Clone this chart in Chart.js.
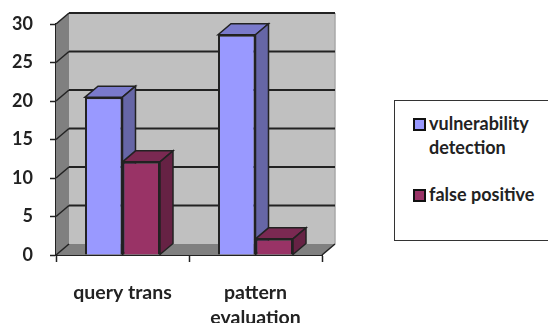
<!DOCTYPE html>
<html>
<head>
<meta charset="utf-8">
<title>query evaluation</title>
<script src="https://cdn.jsdelivr.net/npm/chart.js@4"></script>
<style>
  html, body { margin: 0; background: #fff; }
  #wrap { position: relative; width: 548px; height: 323px; overflow: hidden; font-family: Lato, sans-serif; font-weight: 700; color: #222; }
  #legend { position: absolute; left: 394px; top: 100px; width: 170px; height: 141px; box-sizing: border-box; border: 1.5px solid #333; background: #fff; }
  .item { position: absolute; left: 18px; width: 120px; font-size: 18px; line-height: 24px; padding-left: 16px; }
  .swatch { position: absolute; left: 0; top: 7px; width: 9px; height: 9px; border: 2px solid #111; }
</style>
</head>
<body>
<div id="wrap">
  <canvas id="chart" width="548" height="323"></canvas>
  <div id="legend"></div>
</div>
<script>
// Valores leidos por categoria
var categories = ['query trans', ['pattern', 'evaluation']];
var seriesNames = ['vulnerability detection', 'false positive'];
var vulnerability = [20.5, 28.6];
var falsePositive = [12.1, 2.1];
var yTicks = [0, 5, 10, 15, 20, 25, 30];

var frontColors = ['#9999ff', '#993366'];
var topColors = ['#7a7acc', '#7a2952'];
var sideColors = ['#6666a6', '#662244'];

// Profundidad del efecto 3D
var depthX = 13;
var depthY = 11;
var lineColor = '#222';

function poly(ctx, pts, fill, stroke, width) {
    ctx.beginPath();
    ctx.moveTo(pts[0][0], pts[0][1]);
    for (var i = 1; i < pts.length; i++) ctx.lineTo(pts[i][0], pts[i][1]);
    ctx.closePath();
    ctx.fillStyle = fill;
    ctx.fill();
    if (stroke) {
        ctx.strokeStyle = stroke;
        ctx.lineWidth = width;
        ctx.stroke();
    }
}

function segment(ctx, x1, y1, x2, y2, color, width) {
    ctx.beginPath();
    ctx.moveTo(x1, y1);
    ctx.lineTo(x2, y2);
    ctx.strokeStyle = color;
    ctx.lineWidth = width;
    ctx.stroke();
}

// Paredes, piso y caras laterales de las barras
var box3d = {
    id: 'box3d',
    beforeDatasetsDraw: function (chart) {
        var ctx = chart.ctx;
        var area = chart.chartArea;
        var y = chart.scales.y;
        var l = area.left, r = area.right, t = area.top, b = area.bottom;
        ctx.save();
        poly(ctx, [[l + depthX, t - depthY], [r + depthX, t - depthY], [r + depthX, b - depthY], [l + depthX, b - depthY]], '#c0c0c0');
        poly(ctx, [[l, t], [l + depthX, t - depthY], [l + depthX, b - depthY], [l, b]], '#808080');
        poly(ctx, [[l, b], [l + depthX, b - depthY], [r + depthX, b - depthY], [r, b]], '#808080');
        segment(ctx, r + depthX, t - depthY, r + depthX, b - depthY, '#a8a8a8', 1.5);

        yTicks.forEach(function (v) {
            var py = y.getPixelForValue(v);
            if (v > 0) segment(ctx, l + depthX, py - depthY, r + depthX, py - depthY, lineColor, 2);
            segment(ctx, l, py, l + depthX, py - depthY, lineColor, 1.5);
        });
        segment(ctx, r, b, r + depthX, b - depthY, lineColor, 1.5);

        chart.data.datasets.forEach(function (ds, i) {
            chart.getDatasetMeta(i).data.forEach(function (bar) {
                var x0 = bar.x - bar.width / 2;
                var x1 = bar.x + bar.width / 2;
                poly(ctx, [[x0, bar.y], [x0 + depthX, bar.y - depthY], [x1 + depthX, bar.y - depthY], [x1, bar.y]], topColors[i], lineColor, 1.5);
                poly(ctx, [[x1, bar.y], [x1 + depthX, bar.y - depthY], [x1 + depthX, bar.base - depthY], [x1, bar.base]], sideColors[i], lineColor, 1.5);
            });
        });
        ctx.restore();
    }
};

var ctx = document.getElementById('chart').getContext('2d');
var chart = new Chart(ctx, {
    type: 'bar',
    data: {
        labels: categories,
        datasets: [
            { label: seriesNames[0], data: vulnerability, backgroundColor: frontColors[0], borderColor: lineColor, borderWidth: 2 },
            { label: seriesNames[1], data: falsePositive, backgroundColor: frontColors[1], borderColor: lineColor, borderWidth: 2 }
        ]
    },
    options: {
        responsive: false,
        animation: false,
        layout: { padding: { top: 24, right: 226, left: 0, bottom: 0 } },
        datasets: { bar: { categoryPercentage: 0.564, barPercentage: 1 } },
        plugins: { legend: { display: false }, tooltip: { enabled: false } },
        scales: {
            x: {
                offset: true,
                grid: { drawOnChartArea: false, color: lineColor, tickLength: 7, tickWidth: 1.5 },
                border: { color: lineColor, width: 2 },
                ticks: { color: '#222', font: { family: 'Lato', size: 19.5, weight: 'bold', lineHeight: 1.3 }, padding: 18, maxRotation: 0, autoSkip: false },
                afterFit: function (scale) { scale.height = 68; scale.paddingLeft = 0; scale.paddingRight = 0; }
            },
            y: {
                min: 0,
                max: 30,
                afterBuildTicks: function (scale) { scale.ticks = yTicks.map(function (v) { return { value: v }; }); },
                grid: { drawOnChartArea: false, color: lineColor, tickLength: 6, tickWidth: 1.5 },
                border: { color: lineColor, width: 2 },
                ticks: { color: '#222', font: { family: 'Lato', size: 18, weight: 'bold' }, padding: 17 },
                afterFit: function (scale) { scale.width = 56; scale.paddingTop = 0; scale.paddingBottom = 0; }
            }
        }
    },
    plugins: [box3d]
});

// Leyenda en caja
var legend = document.getElementById('legend');
var itemTops = [10, 81];
seriesNames.forEach(function (name, i) {
    var item = document.createElement('div');
    item.className = 'item';
    item.style.top = itemTops[i] + 'px';
    item.textContent = name;
    var swatch = document.createElement('span');
    swatch.className = 'swatch';
    swatch.style.background = frontColors[i];
    item.appendChild(swatch);
    legend.appendChild(item);
});
</script>
</body>
</html>
